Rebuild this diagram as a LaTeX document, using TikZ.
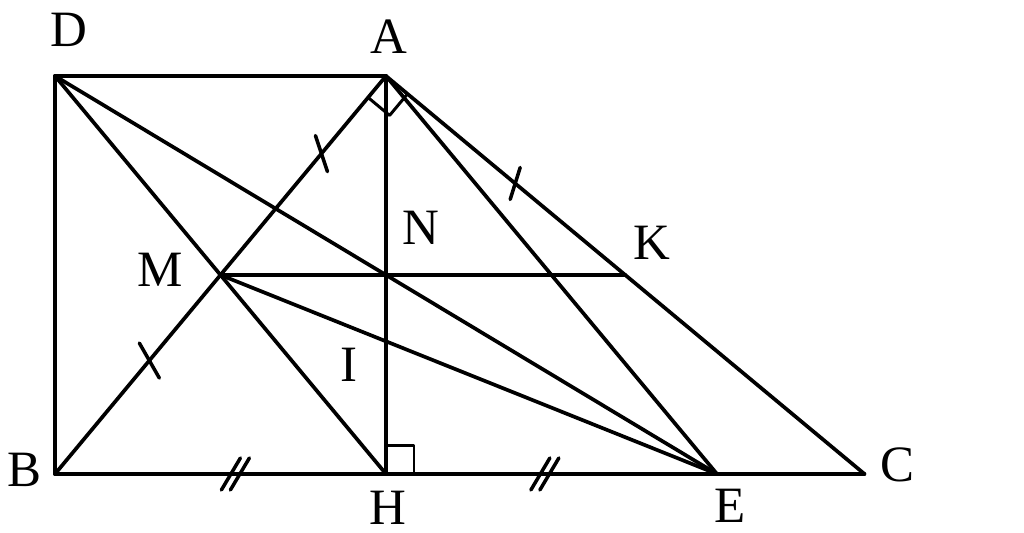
\documentclass[tikz,border=0pt]{standalone}
\usepackage{fontspec}
\setmainfont{Liberation Serif}
\usetikzlibrary{calc}

\begin{document}
\begin{tikzpicture}[line width=2.1pt,line join=round,line cap=round,
                lbl/.style={font=\fontsize{29}{31}\selectfont,inner sep=0pt},
                tick/.style={line width=2pt}]
  \useasboundingbox (-1.1,-1.18) rectangle (19.38,9.48);

  % points
  \coordinate (B) at (0,0);
  \coordinate (H) at (6.62,0);
  \coordinate (A) at (6.62,7.96);
  \coordinate (D) at (0,7.96);
  \coordinate (C) at (16.19,0);
  \coordinate (E) at (13.24,0);
  \coordinate (M) at ($(A)!0.5!(B)$);
  \coordinate (K) at ($(A)!0.5!(C)$);
  \coordinate (N) at (intersection of A--H and M--K);
  \coordinate (I) at (intersection of A--H and M--E);

  \path
    (D) edge (A) edge (B) edge (H) edge (E)
    (B) edge (C)
    (A) edge (B) edge (H) edge (E) edge (C)
    (M) edge (K) edge (E)
  ;

  % right angles
  \coordinate (ab) at ($(A)!0.56cm!(B)$);
  \coordinate (ac) at ($(A)!0.56cm!(C)$);
  \draw[line width=1.7pt] (ab) -- ($(ab)+(ac)-(A)$) -- (ac);
  \draw[line width=1.7pt] ($(H)+(0.56,0)$) -- ($(H)+(0.56,0.56)$) -- ($(H)+(0,0.56)$);

  % equal marks
  \draw[tick] ($(A)!0.39!(M)+(-0.12,0.36)$) -- ++(0.24,-0.72);
  \draw[tick] ($(M)!0.43!(B)+(-0.2,0.35)$) -- ++(0.4,-0.7);
  \draw[tick] ($(A)!0.54!(K)+(0.1,0.32)$) -- ++(-0.2,-0.64);
  \draw[tick] ($(B)!0.545!(H)+(-0.28,-0.32)$) -- ++(0.38,0.64);
  \draw[tick] ($(B)!0.545!(H)+(-0.10,-0.32)$) -- ++(0.38,0.64);
  \draw[tick] ($(H)!0.48!(E)+(-0.28,-0.32)$) -- ++(0.38,0.64);
  \draw[tick] ($(H)!0.48!(E)+(-0.10,-0.32)$) -- ++(0.38,0.64);

  % labels
  \node[lbl] (lD) at (0.28,8.88) {D};
  \node[lbl] (lA) at (6.68,8.74) {A};
  \node[lbl] (lB) at (-0.62,0.08) {B};
  \node[lbl] (lH) at (6.66,-0.67) {H};
  \node[lbl] (lE) at (13.5,-0.63) {E};
  \node[lbl] (lC) at (16.84,0.18) {C};
  \node[lbl] (lM) at (2.10,4.08) {M};
  \node[lbl] (lK) at (11.94,4.62) {K};
  \node[lbl] (lN) at (7.32,4.92) {N};
  \node[lbl] (lI) at (5.88,2.18) {I};
\end{tikzpicture}
\end{document}
